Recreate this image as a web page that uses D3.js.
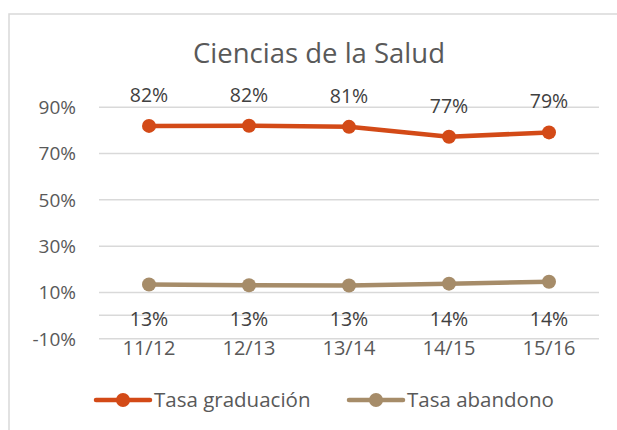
<!DOCTYPE html>
<html>
<head>
<meta charset="utf-8">
<script src="https://cdn.jsdelivr.net/npm/d3@7"></script>
<style>
  html, body { margin: 0; padding: 0; background: #fff; }
  svg { display: block; font-family: "Open Sans", sans-serif; }
</style>
</head>
<body>
<svg id="chart" width="617" height="430"></svg>
<script>
const title = "Ciencias de la Salud";
const categories = ["11/12", "12/13", "13/14", "14/15", "15/16"];
const graduacion = [81.7, 81.8, 81.3, 77.0, 78.9];
const abandono = [13.2, 12.9, 12.8, 13.6, 14.4];
const graduacionLabels = ["82%", "82%", "81%", "77%", "79%"];
const abandonoLabels = ["13%", "13%", "13%", "14%", "14%"];
const yTicks = [-10, 10, 30, 50, 70, 90];
const seriesNames = ["Tasa graduación", "Tasa abandono"];
const colors = ["#D34A17", "#A68C69"];

const svg = d3.select("#chart");
const textColor = "#595959";
const gridColor = "#d9d9d9";

// chart border
svg.append("rect")
  .attr("x", 9).attr("y", 14).attr("width", 700).attr("height", 500)
  .attr("fill", "none").attr("stroke", gridColor).attr("stroke-width", 1.5);

const x = d3.scaleBand().domain(categories).range([99, 599]).paddingInner(0).paddingOuter(0);
const cx = d => x(d) + x.bandwidth() / 2;
const y = d3.scaleLinear().domain([-10, 90]).range([338.3, 106.7]);

// title
svg.append("text")
  .attr("x", 319).attr("y", 63)
  .attr("text-anchor", "middle")
  .attr("font-size", 27.5)
  .attr("fill", textColor)
  .text(title);

// gridlines + y axis labels
const yAxis = d3.axisLeft(y).tickValues(yTicks)
  .tickSize(-500).tickFormat(d => d + "%").tickPadding(23);
const gy = svg.append("g").attr("transform", "translate(99,0)").call(yAxis);
gy.select(".domain").remove();
gy.selectAll(".tick line").attr("stroke", gridColor).attr("stroke-width", 1.5);
gy.selectAll(".tick text").attr("fill", textColor).attr("font-size", 19)
  .attr("font-family", "Open Sans, sans-serif").attr("dy", "0.36em");

// zero axis line
svg.append("line")
  .attr("x1", 99).attr("x2", 599).attr("y1", y(0)).attr("y2", y(0))
  .attr("stroke", gridColor).attr("stroke-width", 1.5);

// category labels
const xAxis = d3.axisBottom(x).tickSize(0).tickPadding(0);
const gx = svg.append("g").attr("transform", "translate(0,339)").call(xAxis);
gx.select(".domain").remove();
gx.selectAll(".tick text").attr("fill", textColor).attr("font-size", 20)
  .attr("font-family", "Open Sans, sans-serif").attr("dy", "0.78em");

const line = d3.line().x((d, i) => cx(categories[i])).y(d => y(d));
const series = [graduacion, abandono];
series.forEach((s, k) => {
  svg.append("path").datum(s)
    .attr("d", line).attr("fill", "none")
    .attr("stroke", colors[k]).attr("stroke-width", 4.5)
    .attr("stroke-linejoin", "round").attr("stroke-linecap", "round");
  svg.selectAll(".pt" + k).data(s).enter().append("circle")
    .attr("cx", (d, i) => cx(categories[i])).attr("cy", d => y(d))
    .attr("r", 7).attr("fill", colors[k]);
});

// data labels
svg.selectAll(".lblG").data(graduacion).enter().append("text")
  .attr("x", (d, i) => cx(categories[i])).attr("y", d => y(d) - 24)
  .attr("text-anchor", "middle").attr("font-size", 19.5).attr("fill", "#404040")
  .text((d, i) => graduacionLabels[i]);
svg.selectAll(".lblA").data(abandono).enter().append("text")
  .attr("x", (d, i) => cx(categories[i])).attr("y", 326)
  .attr("text-anchor", "middle").attr("font-size", 19.5).attr("fill", "#404040")
  .text((d, i) => abandonoLabels[i]);

// legend
const legendItems = [
  { name: seriesNames[0], color: colors[0], x0: 96, x1: 150, tx: 154 },
  { name: seriesNames[1], color: colors[1], x0: 349, x1: 403, tx: 407 }
];
const ly = 400;
legendItems.forEach(it => {
  svg.append("line").attr("x1", it.x0).attr("x2", it.x1).attr("y1", ly).attr("y2", ly)
    .attr("stroke", it.color).attr("stroke-width", 4.5).attr("stroke-linecap", "round");
  svg.append("circle").attr("cx", (it.x0 + it.x1) / 2).attr("cy", ly).attr("r", 7).attr("fill", it.color);
  svg.append("text").attr("x", it.tx).attr("y", ly + 7).attr("font-size", 20.5)
    .attr("fill", textColor).text(it.name);
});
</script>
</body>
</html>
